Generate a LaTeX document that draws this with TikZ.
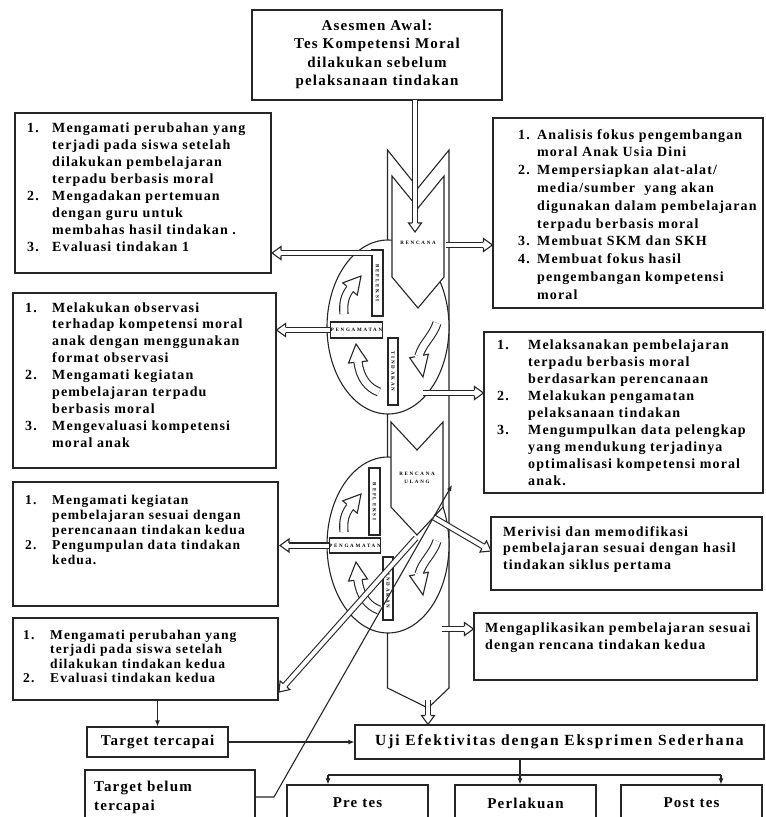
\documentclass[tikz,border=0pt]{standalone}
\usepackage{fontspec}
\setmainfont{Liberation Serif}
\newfontfamily\bodyf[LetterSpace=8]{Liberation Serif}
\newfontfamily\ujif[LetterSpace=12]{Liberation Serif}
\newfontfamily\tinyf[LetterSpace=35]{Liberation Serif}
\usetikzlibrary{calc,arrows.meta}
\newlength\numw
\newcommand\nm[1]{\makebox[\numw][l]{#1}}
\newcommand\blockarrow[2]{%
  \coordinate (bab) at ($(#2)!9pt!(#1)$);
  \draw[ln, double=white, double distance=4pt] (#1) -- (bab);
  \draw[ln, fill=white] ($(bab)!2.55pt!90:(#2)$) -- ($(bab)!6.5pt!90:(#2)$) -- (#2) -- ($(bab)!6.5pt!-90:(#2)$) -- ($(bab)!2.55pt!-90:(#2)$);
}
\newcommand\curvedarrow[5]{%
  \draw[ln, double=white, double distance=7pt] (#1) .. controls (#2) and (#3) .. (#4);
  \draw[ln, fill=white] ($(#4)!4.05pt!90:(#5)$) -- ($(#4)!9.5pt!90:(#5)$) -- (#5) -- ($(#4)!9.5pt!-90:(#5)$) -- ($(#4)!4.05pt!-90:(#5)$);
}
\begin{document}
\begin{tikzpicture}[x=1pt,y=-1pt,
  ln/.style={line width=1.1pt, draw=black!85},
  box/.style={ln, rectangle, fill=white, inner sep=0pt},
  lbl/.style={ln, rectangle, fill=white, inner sep=0pt, font=\tinyf\bfseries\fontsize{5}{6}\selectfont},
  tlbl/.style={inner sep=0pt, font=\tinyf\bfseries\fontsize{5}{6}\selectfont, align=center},
  txt/.style={inner sep=0pt, anchor=base west, font=\bodyf\bfseries},
  thin arrow/.style={ln, -{Latex[length=6pt,width=5pt]}},
]
\useasboundingbox (0,0) rectangle (766,817);
\clip (0,0) rectangle (766,817);
\fill[white] (0,0) rectangle (766,817);

% ---------- text boxes ----------
\node[box, minimum width=250, minimum height=90] (T) at (377,55) {};
\node[txt, anchor=base] (Tt) at (377,30.5) {\fontsize{15}{18.3}\selectfont\begin{tabular}[t]{@{}c@{}}Asesmen Awal:\\Tes Kompetensi Moral\\dilakukan sebelum\\pelaksanaan tindakan\end{tabular}};

\node[box, minimum width=256, minimum height=160] (L1) at (143,193) {};
\node[txt] (L1t) at (27,132) {\fontsize{14}{17}\selectfont\setlength\numw{25pt}\begin{tabular}[t]{@{}l@{}}
\nm{1.}Mengamati perubahan yang\\
\nm{}terjadi pada siswa setelah\\
\nm{}dilakukan pembelajaran\\
\nm{}terpadu berbasis moral\\
\nm{2.}Mengadakan pertemuan\\
\nm{}dengan guru untuk\\
\nm{}membahas hasil tindakan .\\
\nm{3.}Evaluasi tindakan 1
\end{tabular}};

\node[box, minimum width=263, minimum height=175] (L2) at (144.5,380.5) {};
\node[txt] (L2t) at (25,312) {\fontsize{14}{16.9}\selectfont\setlength\numw{27pt}\begin{tabular}[t]{@{}l@{}}
\nm{1.}Melakukan observasi\\
\nm{}terhadap kompetensi moral\\
\nm{}anak dengan menggunakan\\
\nm{}format observasi\\
\nm{2.}Mengamati kegiatan\\
\nm{}pembelajaran terpadu\\
\nm{}berbasis moral\\
\nm{3.}Mengevaluasi kompetensi\\
\nm{}moral anak
\end{tabular}};

\node[box, minimum width=265, minimum height=124] (L3) at (145.5,544) {};
\node[txt] (L3t) at (25,504) {\fontsize{13.5}{15}\selectfont\setlength\numw{27pt}\begin{tabular}[t]{@{}l@{}}
\nm{1.}Mengamati kegiatan\\
\nm{}pembelajaran sesuai dengan\\
\nm{}perencanaan tindakan kedua\\
\nm{2.}Pengumpulan data tindakan\\
\nm{}kedua.
\end{tabular}};

\node[box, minimum width=265, minimum height=82] (L4) at (145.5,659) {};
\node[txt] (L4t) at (23,639) {\fontsize{13.5}{14.5}\selectfont\setlength\numw{27pt}\begin{tabular}[t]{@{}l@{}}
\nm{1.}Mengamati perubahan yang\\
\nm{}terjadi pada siswa setelah\\
\nm{}dilakukan tindakan kedua\\
\nm{2.}Evaluasi tindakan kedua
\end{tabular}};

\node[box, minimum width=270, minimum height=190] (R1) at (628,213) {};
\node[txt] (R1t) at (518,139) {\fontsize{14}{17.8}\selectfont\setlength\numw{19pt}\begin{tabular}[t]{@{}l@{}}
\nm{1.}Analisis fokus pengembangan\\
\nm{}moral Anak Usia Dini\\
\nm{2.}Mempersiapkan alat-alat/\\
\nm{}media/sumber\ \ yang akan\\
\nm{}digunakan dalam pembelajaran\\
\nm{}terpadu berbasis moral\\
\nm{3.}Membuat SKM dan SKH\\
\nm{4.}Membuat fokus hasil\\
\nm{}pengembangan kompetensi\\
\nm{}moral
\end{tabular}};

\node[box, minimum width=279, minimum height=161] (R2) at (623.5,412.5) {};
\node[txt] (R2t) at (497,349) {\fontsize{14}{17.1}\selectfont\setlength\numw{31pt}\begin{tabular}[t]{@{}l@{}}
\nm{1.}Melaksanakan pembelajaran\\
\nm{}terpadu berbasis moral\\
\nm{}berdasarkan perencanaan\\
\nm{2.}Melakukan pengamatan\\
\nm{}pelaksanaan tindakan\\
\nm{3.}Mengumpulkan data pelengkap\\
\nm{}yang mendukung terjadinya\\
\nm{}optimalisasi kompetensi moral\\
\nm{}anak.
\end{tabular}};

\node[box, minimum width=271, minimum height=73] (R3) at (626.5,553.5) {};
\node[txt] (R3t) at (503,536) {\fontsize{14}{16.5}\selectfont\begin{tabular}[t]{@{}l@{}}
Merivisi dan memodifikasi\\
pembelajaran sesuai dengan hasil\\
tindakan siklus pertama
\end{tabular}};

\node[box, minimum width=283, minimum height=67] (R4) at (615.5,646.5) {};
\node[txt] (R4t) at (485,632) {\fontsize{14}{17}\selectfont\begin{tabular}[t]{@{}l@{}}
Mengaplikasikan pembelajaran sesuai\\
dengan rencana tindakan kedua
\end{tabular}};

% bottom boxes
\node[box, minimum width=141, minimum height=30, font=\bodyf\bfseries\fontsize{15}{18}\selectfont] (TT) at (157.5,742) {Target tercapai};
\node[box, minimum width=170, minimum height=62] (TB) at (170,801) {};
\node[txt] (TBt) at (94,791) {\fontsize{15}{19}\selectfont\begin{tabular}[t]{@{}l@{}}Target belum\\tercapai\end{tabular}};
\node[box, minimum width=409, minimum height=34, font=\ujif\bfseries\fontsize{15.5}{18}\selectfont] (UJ) at (559.5,742) {Uji Efektivitas dengan Eksprimen Sederhana};
\node[box, minimum width=141, minimum height=36, font=\bodyf\bfseries\fontsize{15}{18}\selectfont] (PR) at (357.5,803) {Pre tes};
\node[box, minimum width=141, minimum height=36, font=\bodyf\bfseries\fontsize{15}{18}\selectfont] (PL) at (525.5,803) {Perlakuan};
\node[box, minimum width=141, minimum height=36, font=\bodyf\bfseries\fontsize{15}{18}\selectfont] (PO) at (691.5,803) {Post tes};

% ---------- spiral ----------
\draw[ln, fill=white] (387.5,150) -- (418,188) -- (449,150) -- (449,688) -- (428,708) -- (387.5,688) -- cycle;
\draw[ln, fill=white] (388,327) ellipse [x radius=61, y radius=87];
\draw[ln, fill=white] (388,545) ellipse [x radius=61, y radius=88];
\draw[ln, fill=white] (392,176) -- (418,208) -- (444,176) -- (444,277) -- (418,308) -- (392,277) -- cycle;
\draw[ln, fill=white] (391,422) -- (417,450) -- (443,422) -- (443,507) -- (417,535) -- (391,507) -- cycle;
\node[tlbl] (renc) at (418,243) {RENCANA};
\node[tlbl] (rencu) at (417,478) {RENCANA\\[2pt]ULANG};

\node[lbl, minimum width=66, minimum height=11, rotate=-90] (ref1) at (377.5,283) {REFLEKSI};
\node[lbl, minimum width=43, minimum height=16] (pg1) at (356.5,330) {PENGAMATAN};
\node[lbl, minimum width=67, minimum height=10, rotate=-90] (td1) at (393,371.5) {TINDAKAN};
\node[lbl, minimum width=67, minimum height=11, rotate=-90] (ref2) at (374.5,501.5) {REFLEKSI};
\node[lbl, minimum width=44, minimum height=15] (pg2) at (355,545.5) {PENGAMATAN};
\node[lbl, minimum width=63, minimum height=10, rotate=-90] (td2) at (388,588.5) {TINDAKAN};

\curvedarrow{344,314}{343,302}{345,296}{350,289}{361,276}
\curvedarrow{379,392}{368,388}{360,378}{358,362}{356,344}
\curvedarrow{437,323}{433,336}{422,344}{419,356}{423,377}
\begin{scope}[shift={(0,218)}]
\curvedarrow{344,314}{343,302}{345,296}{350,289}{361,276}
\curvedarrow{379,392}{368,388}{360,378}{358,362}{356,344}
\curvedarrow{437,323}{433,336}{422,344}{419,356}{423,377}
\end{scope}

% ---------- block arrows ----------
\coordinate (topout) at (415,100);
\coordinate (rencin) at (415,232);
\coordinate (rencout) at (446,245);
\coordinate (r1in) at (R1.west |- rencout);
\coordinate (ref1out) at (373,253);
\coordinate (l1in) at (272,253);
\coordinate (l2in) at (L2.east |- pg1.west);
\coordinate (td1out) at (423,393);
\coordinate (r2in) at (R2.west |- td1out);
\coordinate (l3in) at (280,545.5);
\coordinate (rucout) at (433,517);
\coordinate (r3in) at (491,551);
\coordinate (td2out) at (442,629);
\coordinate (r4in) at (R4.west |- td2out);
\coordinate (diagout) at (416,538);
\coordinate (l4in) at (279,692);
\coordinate (pentout) at (428,700);
\coordinate (ujin) at (UJ.north -| pentout);

\blockarrow{topout}{rencin}
\blockarrow{rencout}{r1in}
\blockarrow{ref1out}{l1in}
\blockarrow{pg1.west}{l2in}
\blockarrow{td1out}{r2in}
\blockarrow{pg2.west}{l3in}
\blockarrow{rucout}{r3in}
\blockarrow{td2out}{r4in}
\blockarrow{diagout}{l4in}
\blockarrow{pentout}{ujin}

% ---------- thin connectors ----------
\draw[thin arrow] (TT.north |- L4.south) -- (TT.north);
\draw[thin arrow] (TT.east) -- (UJ.west |- TT.east);
\coordinate (split) at (520,775);
\coordinate (barL) at (328,775);
\coordinate (barR) at (721,775);
\draw[thin arrow] (UJ.south -| split) -- (PL.north -| split);
\draw[ln] (barL) -- (barR);
\draw[thin arrow] (barL) -- (PR.north -| barL);
\draw[thin arrow] (barR) -- (PO.north -| barR);
\coordinate (tbk) at (274,797);
\coordinate (ruin) at (452,485);
\draw[thin arrow] (TB.east |- tbk) -- (tbk) -- (ruin);
\end{tikzpicture}
\end{document}
